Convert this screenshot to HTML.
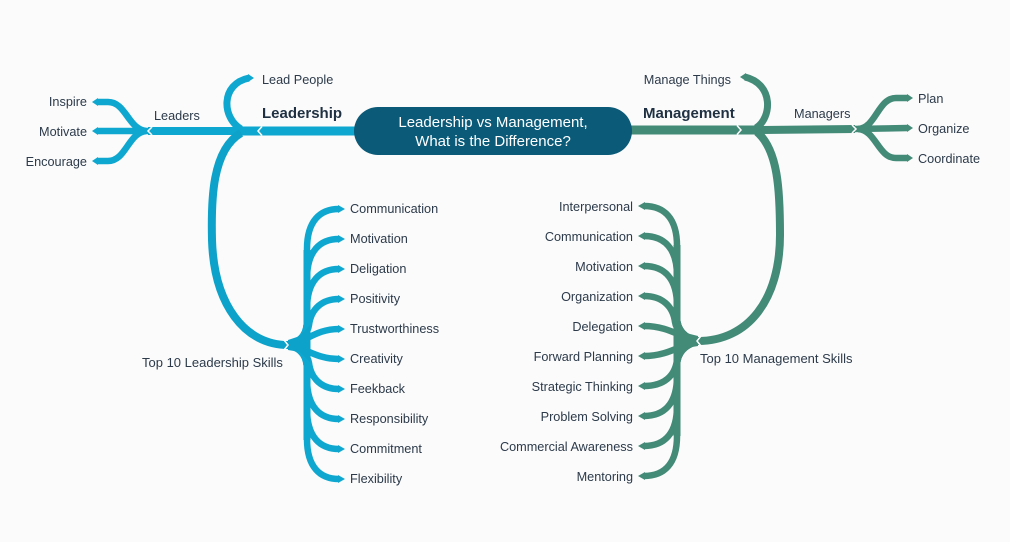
<!DOCTYPE html>
<html><head><meta charset="utf-8">
<style>
html,body{margin:0;padding:0;background:#fbfbfb;}
svg{display:block;}
text{font-family:"Liberation Sans",Arial,sans-serif;}
.l{font-size:12.7px;fill:#2c3a4a;}
.t{font-size:13px;fill:#2c3a4a;}
.b{font-size:15px;font-weight:bold;fill:#1e3042;}
.c{font-size:15px;fill:#ffffff;}
</style></head>
<body>
<svg width="1010" height="542" viewBox="0 0 1010 542" xmlns="http://www.w3.org/2000/svg">
<rect width="1010" height="542" fill="#fbfbfb"/>

<!-- ===== LEFT (blue) ===== -->
<g fill="none" stroke="#0ea7cf" stroke-linecap="butt">
  <path d="M356,131 L236,131" stroke-width="9"/>
  <path d="M236,131 L148,131" stroke-width="8"/>
  <path d="M241,129 C222,118 220,84 249,78" stroke-width="7"/>
  <path d="M241,133 C212,150 211,200 212,240 C214,305 245,345 288,345" stroke-width="8" stroke="#0ca2ca"/>
  <!-- leaders fork -->
  <path d="M150,131 L97,131" stroke-width="6.5"/>
  <path d="M146,131 C128,129 126,102 108,102 L97,102" stroke-width="6.5"/>
  <path d="M146,131 C128,133 126,161 108,161 L97,161" stroke-width="6.5"/>
  <!-- skills trunk -->
  <path d="M307,250 L307,440" stroke-width="7"/>
  <!-- skills upper -->
  <path d="M290,344 C302,341 307,333 307,320 L307,249 C307,221 320,209 339,209" stroke-width="6.5"/>
  <path d="M290,344 C302,341 307,333 307,320 L307,279 C307,251 320,239 339,239" stroke-width="6.5"/>
  <path d="M290,344 C302,341 307,333 307,320 L307,309 C307,281 320,269 339,269" stroke-width="6.5"/>
  <path d="M290,344 C302,341 308,332 309,325 C311,309 322,299 339,299" stroke-width="6.5"/>
  <path d="M290,344 C305,343 315,329 339,329" stroke-width="6.5"/>
  <!-- skills lower -->
  <path d="M290,346 C305,347 315,359 339,359" stroke-width="6.5"/>
  <path d="M290,346 C302,349 308,356 309,363 C311,379 322,389 339,389" stroke-width="6.5"/>
  <path d="M290,346 C302,349 307,357 307,370 L307,379 C307,407 320,419 339,419" stroke-width="6.5"/>
  <path d="M290,346 C302,349 307,357 307,370 L307,409 C307,437 320,449 339,449" stroke-width="6.5"/>
  <path d="M290,346 C302,349 307,357 307,370 L307,439 C307,467 320,479 339,479" stroke-width="6.5"/>
</g>
<!-- hub thickening -->
<path d="M288,340 L300,336 L310,325 L310,362 L300,352 L288,350 Z" fill="#0ca2ca"/>
<g fill="#0ea7cf">
  <polygon points="92,102 98,98 98,106"/>
  <polygon points="92,131 98,127 98,135"/>
  <polygon points="92,161 98,157 98,165"/>
  <polygon points="254,78 248,74 248,82"/>
  <polygon points="338,205 345,209 338,213"/>
  <polygon points="338,235 345,239 338,243"/>
  <polygon points="338,265 345,269 338,273"/>
  <polygon points="338,295 345,299 338,303"/>
  <polygon points="338,325 345,329 338,333"/>
  <polygon points="338,355 345,359 338,363"/>
  <polygon points="338,385 345,389 338,393"/>
  <polygon points="338,415 345,419 338,423"/>
  <polygon points="338,445 345,449 338,453"/>
  <polygon points="338,475 345,479 338,483"/>
</g>
<g fill="none" stroke="#ffffff" stroke-width="1.5">
  <polyline points="262,126.5 258,131 262,135.5"/>
  <polyline points="152,127 148,131 152,135"/>
  <polyline points="284,340 288,345 284,350"/>
</g>

<!-- ===== RIGHT (green) ===== -->
<g fill="none" stroke="#438a77" stroke-linecap="butt">
  <path d="M630,130 L760,130" stroke-width="9"/>
  <path d="M760,130 L855,129" stroke-width="8"/>
  <path d="M756,128 C772,118 774,84 745,77" stroke-width="7"/>
  <path d="M757,132 C778,150 780,190 780,235 C780,300 748,341 698,341" stroke-width="8"/>
  <!-- managers fork -->
  <path d="M853,129 L908,128" stroke-width="6.5"/>
  <path d="M858,129 C876,128 878,98 896,98 L908,98" stroke-width="6.5"/>
  <path d="M858,129 C876,130 878,158 896,158 L908,158" stroke-width="6.5"/>
  <!-- skills trunk -->
  <path d="M677,245 L677,436" stroke-width="7"/>
  <!-- upper -->
  <path d="M697,340 C685,338 677,330 677,317 L677,246 C677,218 664,206 644,206" stroke-width="6.5"/>
  <path d="M697,340 C685,338 677,330 677,317 L677,276 C677,248 664,236 644,236" stroke-width="6.5"/>
  <path d="M697,340 C685,338 677,330 677,317 L677,306 C677,278 664,266 644,266" stroke-width="6.5"/>
  <path d="M697,340 C685,338 676,330 675,322 C673,306 662,296 644,296" stroke-width="6.5"/>
  <path d="M697,340 C682,339 670,326 644,326" stroke-width="6.5"/>
  <!-- lower -->
  <path d="M697,342 C682,343 670,356 644,356" stroke-width="6.5"/>
  <path d="M697,342 C685,345 678,352 677,360 C675,376 664,386 644,386" stroke-width="6.5"/>
  <path d="M697,342 C685,345 677,353 677,366 L677,376 C677,404 664,416 644,416" stroke-width="6.5"/>
  <path d="M697,342 C685,345 677,353 677,366 L677,406 C677,434 664,446 644,446" stroke-width="6.5"/>
  <path d="M697,342 C685,345 677,353 677,366 L677,436 C677,464 664,476 644,476" stroke-width="6.5"/>
</g>
<path d="M698,336 L686,333 L674,322 L674,360 L686,348 L698,346 Z" fill="#438a77"/>
<g fill="#438a77">
  <polygon points="913,98 907,94 907,102"/>
  <polygon points="913,128 907,124 907,132"/>
  <polygon points="913,158 907,154 907,162"/>
  <polygon points="740,77 746,73 746,81"/>
  <polygon points="645,202 638,206 645,210"/>
  <polygon points="645,232 638,236 645,240"/>
  <polygon points="645,262 638,266 645,270"/>
  <polygon points="645,292 638,296 645,300"/>
  <polygon points="645,322 638,326 645,330"/>
  <polygon points="645,352 638,356 645,360"/>
  <polygon points="645,382 638,386 645,390"/>
  <polygon points="645,412 638,416 645,420"/>
  <polygon points="645,442 638,446 645,450"/>
  <polygon points="645,472 638,476 645,480"/>
</g>
<g fill="none" stroke="#ffffff" stroke-width="1.5">
  <polyline points="737,125.5 741,130 737,134.5"/>
  <polyline points="852,125 856,129 852,133"/>
  <polyline points="701,336 697,341 701,346"/>
</g>

<!-- ===== CENTER ===== -->
<rect x="354" y="107" width="278" height="48" rx="24" ry="24" fill="#0b5a78"/>
<text class="c" x="493" y="127" text-anchor="middle">Leadership vs Management,</text>
<text class="c" x="493" y="146" text-anchor="middle">What is the Difference?</text>

<!-- ===== LABELS LEFT ===== -->
<text class="b" x="262" y="118">Leadership</text>
<text class="l" x="262" y="84">Lead People</text>
<text class="l" x="154" y="120">Leaders</text>
<text class="l" x="87" y="106" text-anchor="end">Inspire</text>
<text class="l" x="87" y="136" text-anchor="end">Motivate</text>
<text class="l" x="87" y="166" text-anchor="end">Encourage</text>
<text class="t" x="142" y="367">Top 10 Leadership Skills</text>
<text class="l" x="350" y="213">Communication</text>
<text class="l" x="350" y="243">Motivation</text>
<text class="l" x="350" y="273">Deligation</text>
<text class="l" x="350" y="303">Positivity</text>
<text class="l" x="350" y="333">Trustworthiness</text>
<text class="l" x="350" y="363">Creativity</text>
<text class="l" x="350" y="393">Feekback</text>
<text class="l" x="350" y="423">Responsibility</text>
<text class="l" x="350" y="453">Commitment</text>
<text class="l" x="350" y="483">Flexibility</text>

<!-- ===== LABELS RIGHT ===== -->
<text class="b" x="643" y="118">Management</text>
<text class="l" x="731" y="84" text-anchor="end">Manage Things</text>
<text class="l" x="794" y="118">Managers</text>
<text class="l" x="918" y="103">Plan</text>
<text class="l" x="918" y="133">Organize</text>
<text class="l" x="918" y="163">Coordinate</text>
<text class="t" x="700" y="363">Top 10 Management Skills</text>
<text class="l" x="633" y="211" text-anchor="end">Interpersonal</text>
<text class="l" x="633" y="241" text-anchor="end">Communication</text>
<text class="l" x="633" y="271" text-anchor="end">Motivation</text>
<text class="l" x="633" y="301" text-anchor="end">Organization</text>
<text class="l" x="633" y="331" text-anchor="end">Delegation</text>
<text class="l" x="633" y="361" text-anchor="end">Forward Planning</text>
<text class="l" x="633" y="391" text-anchor="end">Strategic Thinking</text>
<text class="l" x="633" y="421" text-anchor="end">Problem Solving</text>
<text class="l" x="633" y="451" text-anchor="end">Commercial Awareness</text>
<text class="l" x="633" y="481" text-anchor="end">Mentoring</text>
</svg>
</body></html>
